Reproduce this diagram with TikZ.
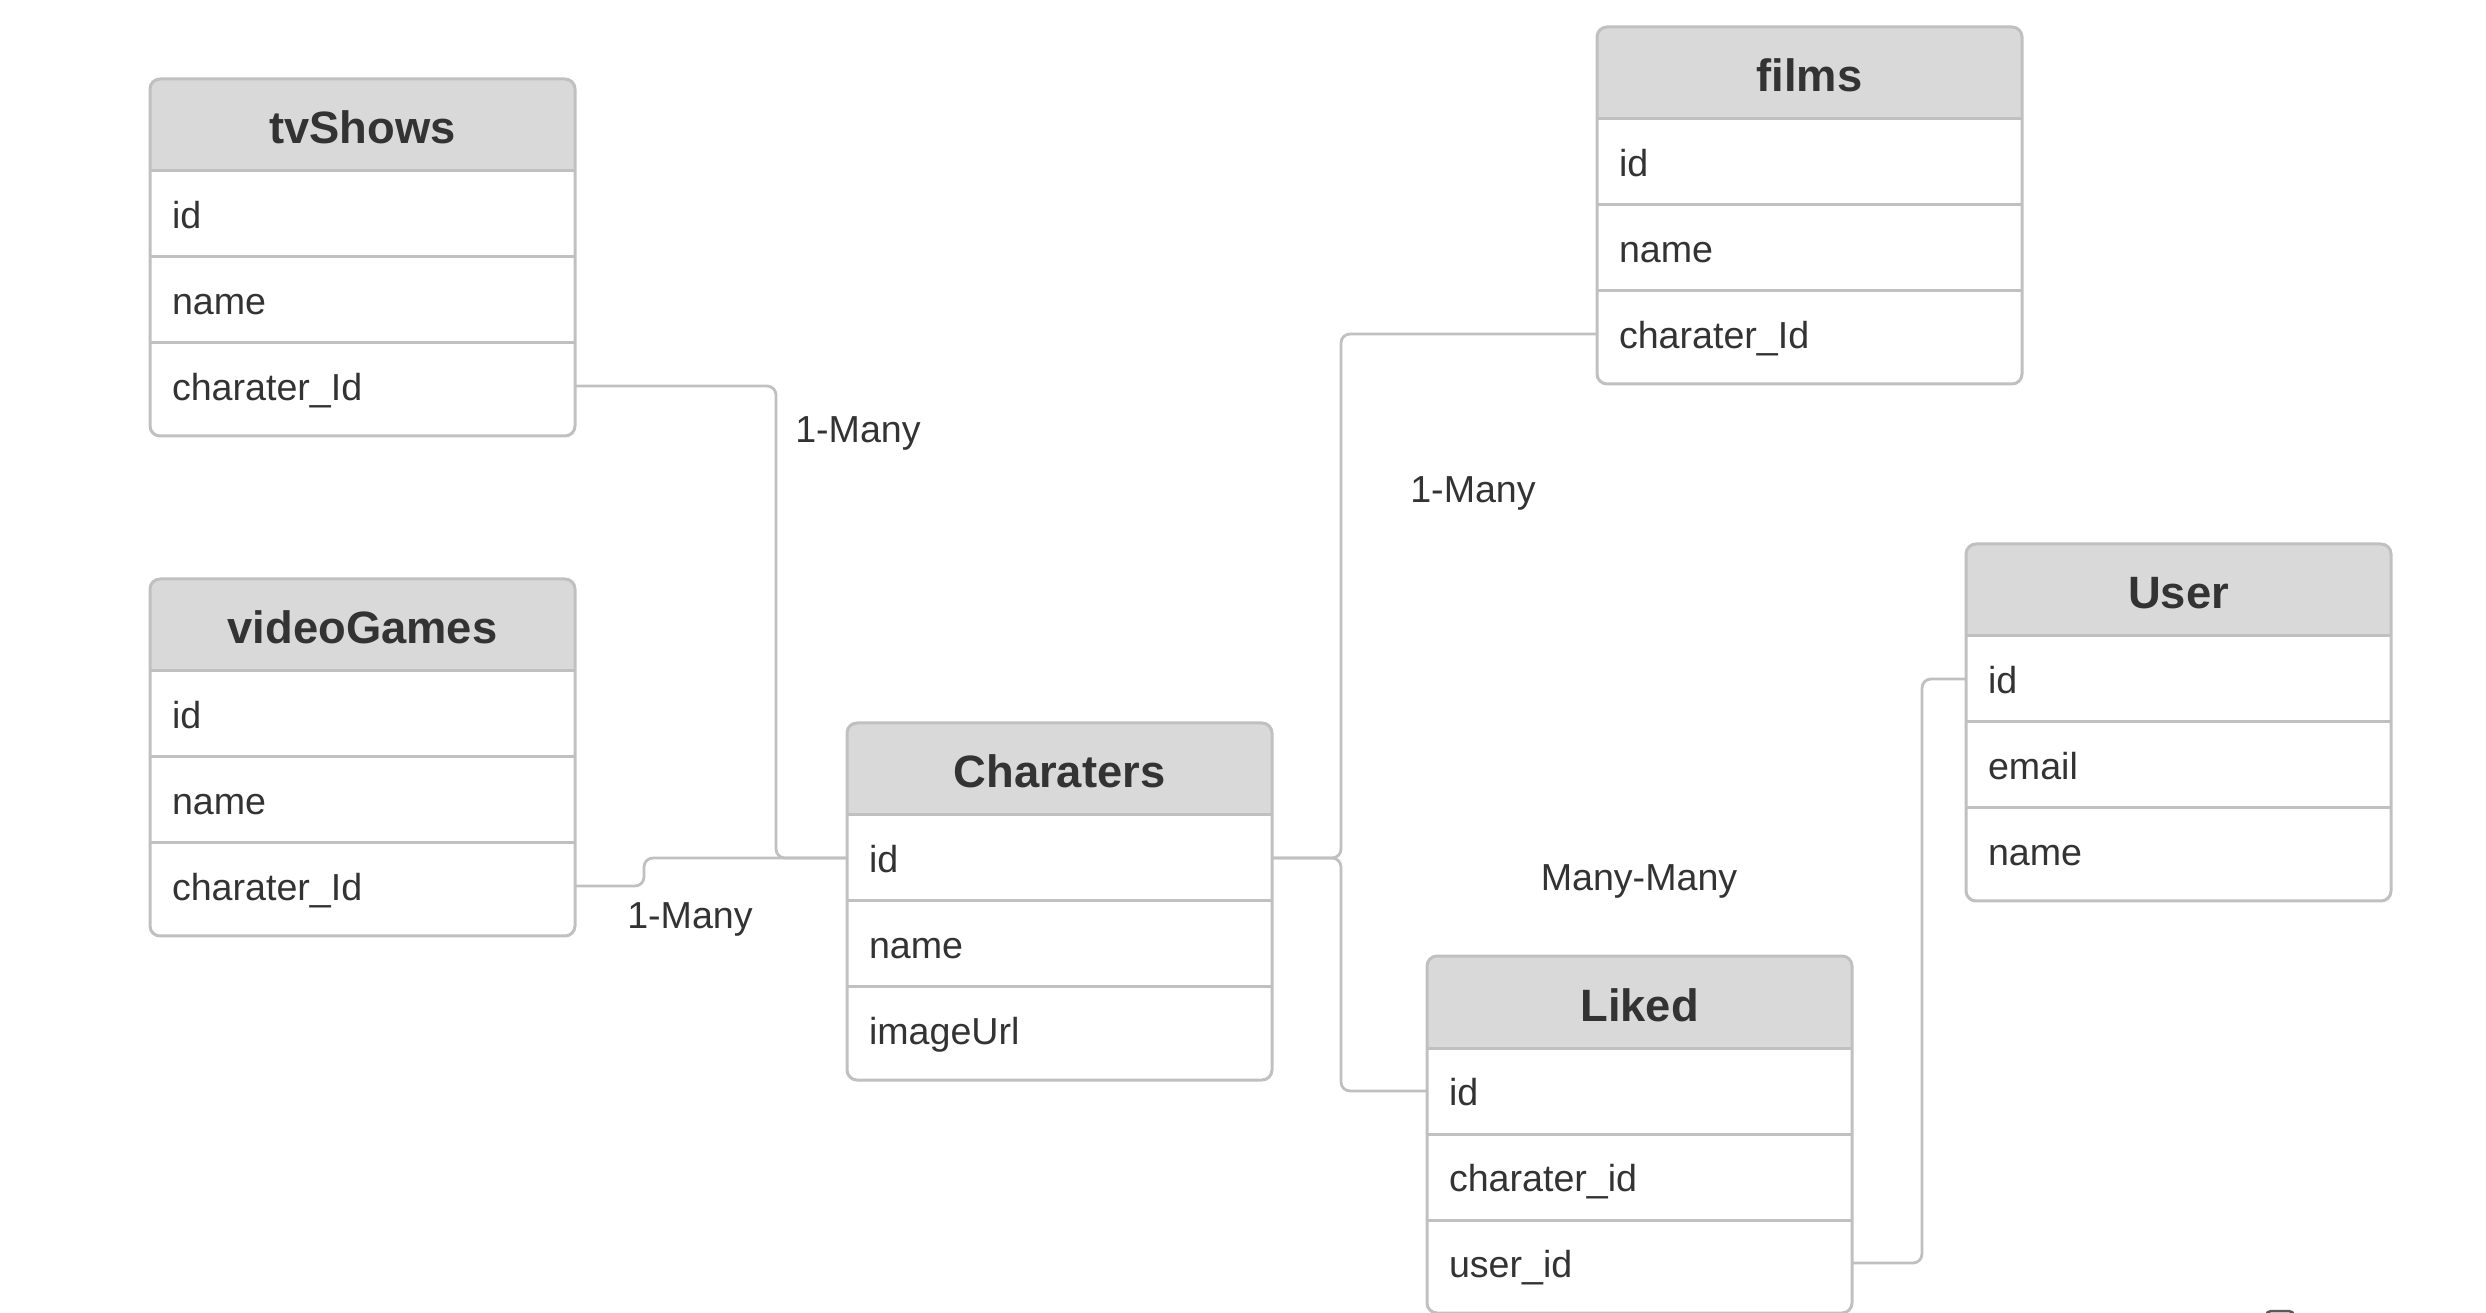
\documentclass[tikz,border=0pt]{standalone}
\usepackage{fontspec}
\setmainfont{Liberation Sans}
\usepackage{tikz}
\usetikzlibrary{positioning}
\definecolor{headgray}{HTML}{D9D9D9}
\definecolor{linegray}{HTML}{C0C0C0}
\definecolor{textgray}{HTML}{333333}
\tikzset{head/.style = {anchor = north west, inner sep = 0, outer sep = 0, minimum width = 42.5mm, minimum height = 9.2mm, text height = 3.8mm, text depth = 0mm, text = textgray, font = \bfseries\fontsize{12.9}{15}\selectfont}}
\tikzset{field/.style = {inner sep = 0, outer sep = 0, inner xsep = 2.2mm, minimum width = 42.5mm, minimum height = 8.6mm, text width = 38.1mm, align = left, text height = 3.0mm, text depth = 0.1mm, text = textgray, font = \fontsize{10.7}{12}\selectfont}}
\tikzset{sep/.style = {draw = linegray, line width = 0.3mm}}
\tikzset{frame/.style = {draw = linegray, line width = 0.3mm, rounded corners = 1mm}}
\tikzset{link/.style = {draw = linegray, line width = 0.28mm, rounded corners = 0.9mm}}
\tikzset{lbl/.style = {inner sep = 0, text = textgray, font = \fontsize{10.7}{12}\selectfont}}

\begin{document}
\begin{tikzpicture}[x = 0.1mm, y = -0.1mm]
      \useasboundingbox (0, 0) rectangle (2486, 1313);
      \foreach \nm/\px/\py/\ttl/\fa/\fb/\fc in {
          tv/150/79/tvShows/id/name/charater\_Id,
          vg/150/579/videoGames/id/name/charater\_Id,
          ch/847/723/Charaters/id/name/imageUrl,
          fm/1597/27/films/id/name/charater\_Id,
          us/1966/544/User/id/email/name,
          lk/1427/956/Liked/id/charater\_id/user\_id} {
        \begin{scope}
          \clip [rounded corners = 1mm] (\px, \py) rectangle ++(425, 357);
          \fill [headgray] (\px, \py) rectangle ++(425, 92);
        \end{scope}
        \node [head] (\nm) at (\px, \py) {\ttl};
        \node [field, below = 0pt of \nm] (\nm-1) {\fa};
        \node [field, below = 0pt of \nm-1] (\nm-2) {\fb};
        \node [field, below = 0pt of \nm-2] (\nm-3) {\fc};
        \draw [sep] (\nm.south west) -- (\nm.south east);
        \draw [sep] (\nm-1.south west) -- (\nm-1.south east);
        \draw [sep] (\nm-2.south west) -- (\nm-2.south east);
        \draw [frame] (\nm.north west) rectangle ([yshift = -0.7mm] \nm-3.south east);
      }
      \draw [link] (tv-3.east) -- ++(201, 0) |- (ch-1.west);
      \draw [link] (vg-3.east) -- ++(69, 0) |- (ch-1.west);
      \draw [link] (ch-1.east) -- ++(69, 0) |- (fm-3.west);
      \draw [link] (ch-1.east) -- ++(69, 0) |- (lk-1.west);
      \draw [link] (lk-3.east) -- ++(70, 0) |- (us-1.west);
      \node [lbl] (tvlbl) at (858, 433) {1-Many};
      \node [lbl] (vglbl) at (690, 919) {1-Many};
      \node [lbl] (fmlbl) at (1473, 493) {1-Many};
      \node [lbl] (lklbl) at (1639, 881) {Many-Many};
      \draw [draw = gray!70!black, line width = 0.25mm, rounded corners = 0.5mm] (2266, 1325) |- (2294, 1311) -- (2294, 1325);
    \end{tikzpicture}
\end{document}
